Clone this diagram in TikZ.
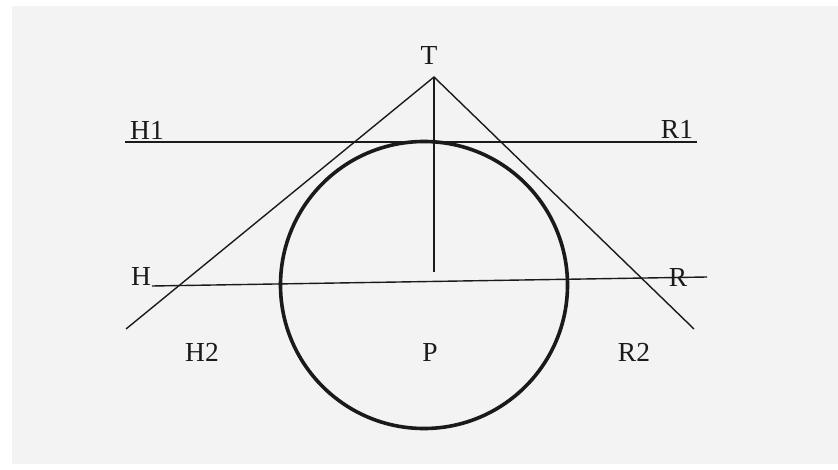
\documentclass[tikz,border=0pt]{standalone}
\usepackage{fontspec}
\setmainfont{Liberation Serif}
\definecolor{bg}{HTML}{F3F3F3}
\definecolor{ink}{HTML}{1A1A1A}
\begin{document}
\begin{tikzpicture}[x=1pt,y=-1pt,
  lbl/.style={inner sep=0pt,anchor=base,text=ink,font=\fontsize{27.5}{30}\selectfont},
  thin line/.style={draw=ink,line width=1.4pt},
  ring/.style={draw=ink,line width=3.6pt}]
\useasboundingbox (0,0) rectangle (838,470);
\fill[white] (0,0) rectangle (838,470);
\fill[bg] (12,6) rectangle (838,464);
% points
\coordinate (apex) at (434,77);
\coordinate (foot) at (434,272);
\coordinate (h1a) at (125,142);
\coordinate (r1a) at (697,142);
\coordinate (ha) at (152,286);
\coordinate (ra) at (707,277);
\coordinate (ll) at (126,329);
\coordinate (rl) at (694,329);
\coordinate (ctr) at (424,285);
% circle
\draw[ring] (ctr) circle [radius=143.5pt];
% lines
\draw[thin line] (h1a) -- (r1a);
\draw[thin line] (ha) -- (ra);
\draw[thin line] (ll) -- (apex) -- (rl);
\draw[thin line] (apex) -- (foot);
% labels
\node[lbl] (T) at (429,65) {T};
\node[lbl] (H1) at (147,140) {H1};
\node[lbl] (R1) at (677,139) {R1};
\node[lbl] (H) at (141,286) {H};
\node[lbl] (R) at (678,287) {R};
\node[lbl] (H2) at (202,361) {H2};
\node[lbl] (P) at (430,361) {P};
\node[lbl] (R2) at (634,361) {R2};
\end{tikzpicture}
\end{document}
